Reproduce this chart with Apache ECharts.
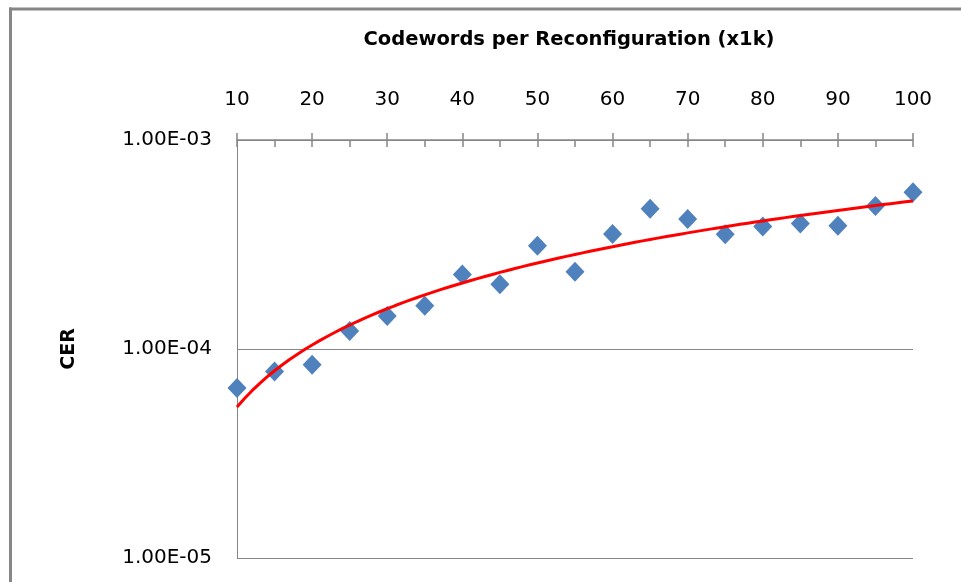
<!DOCTYPE html>
<html>
<head>
<meta charset="utf-8">
<script src="https://cdn.jsdelivr.net/npm/echarts@6/dist/echarts.min.js"></script>
<style>
html,body{margin:0;padding:0;background:#fff;overflow:hidden;}
#chart{width:961px;height:582px;}
</style>
</head>
<body>
<div id="chart"></div>
<script>
// codewords per reconfiguration (x1k)
var xVals = [10, 15, 20, 25, 30, 35, 40, 45, 50, 55, 60, 65, 70, 75, 80, 85, 90, 95, 100];
// measured CER
var cerVals = [6.5e-5, 7.8e-5, 8.4e-5, 1.22e-4, 1.44e-4, 1.61e-4, 2.27e-4, 2.04e-4, 3.12e-4, 2.34e-4,
               3.55e-4, 4.69e-4, 4.19e-4, 3.54e-4, 3.86e-4, 3.99e-4, 3.89e-4, 4.83e-4, 5.62e-4];
var yTicks = [1e-5, 1e-4, 1e-3];

var axisGray = '#868686';

// 1.00E-03 style labels
function sciLabel(v){
    var e = Math.round(Math.log(v) / Math.LN10);
    var m = v / Math.pow(10, e);
    var a = Math.abs(e);
    return m.toFixed(2) + 'E' + (e < 0 ? '-' : '+') + (a < 10 ? '0' + a : a);
}

// power trendline (least squares in log-log, like Excel)
function powerFit(xs, ys){
    var n = xs.length, sx = 0, sy = 0, sxx = 0, sxy = 0;
    for (var i = 0; i < n; i++) {
        var lx = Math.log(xs[i]), ly = Math.log(ys[i]);
        sx += lx; sy += ly; sxx += lx * lx; sxy += lx * ly;
    }
    var b = (n * sxy - sx * sy) / (n * sxx - sx * sx);
    var a = Math.exp((sy - b * sx) / n);
    return {a: a, b: b};
}

var fit = powerFit(xVals, cerVals);
var trendData = [];
for (var x = xVals[0]; x <= xVals[xVals.length - 1]; x++) {
    trendData.push([x, fit.a * Math.pow(x, fit.b)]);
}
var pointData = xVals.map(function(v, i){ return [v, cerVals[i]]; });

var myChart = echarts.init(document.getElementById('chart'));
var option = {
    backgroundColor: '#fff',
    animation: false,
    // chart frame, only left and top edges are in view
    graphic: [{
        type: 'line',
        shape: {x1: 10.5, y1: 7.5, x2: 10.5, y2: 582},
        style: {stroke: axisGray, lineWidth: 3},
        silent: true
    }, {
        type: 'line',
        shape: {x1: 9, y1: 9, x2: 961, y2: 9},
        style: {stroke: axisGray, lineWidth: 3},
        silent: true
    }],
    grid: {left: 237, top: 140, right: 48, bottom: 24, containLabel: false},
    xAxis: [{
        type: 'value',
        position: 'top',
        min: 10,
        max: 100,
        interval: 10,
        name: 'Codewords per Reconfiguration (x1k)',
        nameLocation: 'middle',
        nameGap: 100,
        nameTextStyle: {
            fontFamily: 'DejaVu Sans', fontWeight: 'bold', fontSize: 19.5, color: '#000',
            verticalAlign: 'middle', padding: [0, 12, 0, 0]
        },
        axisLine: {show: true, lineStyle: {color: axisGray, width: 1.5}},
        axisTick: {show: true, inside: false, length: 7, lineStyle: {color: axisGray, width: 1.5}},
        axisLabel: {fontFamily: 'DejaVu Sans', fontSize: 20, color: '#000', margin: 30},
        splitLine: {show: false}
    }, {
        // inside ticks + minor ticks
        type: 'value',
        position: 'top',
        min: 10,
        max: 100,
        interval: 10,
        axisLine: {show: false},
        axisTick: {show: true, inside: true, length: 7, lineStyle: {color: axisGray, width: 1.5}},
        minorTick: {show: true, splitNumber: 2, length: 7, lineStyle: {color: axisGray, width: 1.5}},
        axisLabel: {show: false},
        splitLine: {show: false}
    }],
    yAxis: {
        type: 'log',
        logBase: 10,
        min: yTicks[0],
        max: yTicks[yTicks.length - 1],
        name: 'CER',
        nameLocation: 'middle',
        nameRotate: 90,
        nameGap: 158,
        nameTextStyle: {fontFamily: 'DejaVu Sans', fontWeight: 'bold', fontSize: 19, color: '#000'},
        axisLine: {show: true, lineStyle: {color: axisGray, width: 1}},
        axisTick: {show: false},
        axisLabel: {
            fontFamily: 'DejaVu Sans', fontSize: 20, color: '#000', margin: 25,
            formatter: function(v){ return sciLabel(v); }
        },
        splitLine: {show: true, lineStyle: {color: axisGray, width: 1}}
    },
    series: [{
        name: 'CER',
        type: 'scatter',
        symbol: 'diamond',
        symbolSize: [19, 20],
        itemStyle: {color: '#4f81bd', opacity: 1},
        data: pointData,
        z: 2
    }, {
        name: 'Power (CER)',
        type: 'line',
        showSymbol: false,
        smooth: false,
        lineStyle: {color: '#ff0000', width: 3},
        data: trendData,
        z: 3
    }]
};
myChart.setOption(option);
</script>
</body>
</html>
